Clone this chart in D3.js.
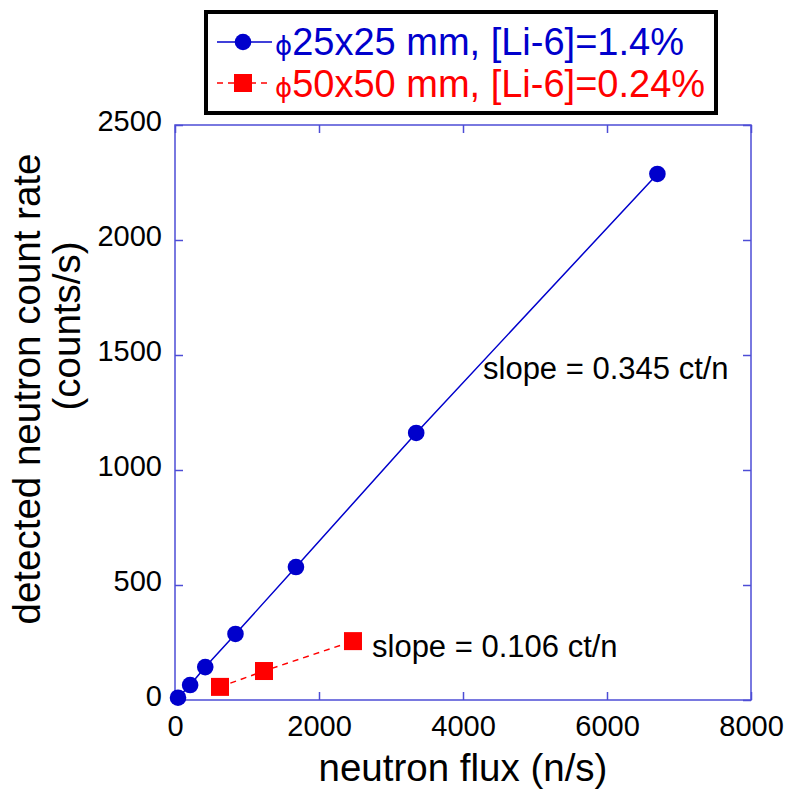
<!DOCTYPE html>
<html><head><meta charset="utf-8">
<script src="https://cdn.jsdelivr.net/npm/d3@7"></script>
<style>body{margin:0;background:#fff}text{font-family:"Liberation Sans",Arial,sans-serif}</style>
</head><body><svg id="c" width="790" height="792"></svg>
<script>
const fluxA = [42, 210, 420, 840, 1680, 3350, 6700];
const rateA = [10, 65, 143, 287, 578, 1161, 2287];
const fluxB = [625, 1236, 2472];
const rateB = [57, 126, 256];
const xTicks = [0, 2000, 4000, 6000, 8000];
const yTicks = [0, 500, 1000, 1500, 2000, 2500];
const labelA = "25x25 mm, [Li-6]=1.4%";
const labelB = "50x50 mm, [Li-6]=0.24%";

const svg = d3.select("#c");
const L=175,R=751,T=125,B=700;
const x = d3.scaleLinear().domain([0,8000]).range([L,R]);
const y = d3.scaleLinear().domain([0,2500]).range([B,T]);
const axisCol="#4d4dd6";

svg.append("rect").attr("x",L).attr("y",T).attr("width",R-L).attr("height",B-T)
  .attr("fill","none").attr("stroke",axisCol).attr("stroke-width",1.5);

const gx = svg.append("g").attr("transform",`translate(0,${B})`)
  .call(d3.axisBottom(x).tickValues(xTicks).tickSize(-8).tickPadding(15).tickFormat(d3.format("d")));
const gxt = svg.append("g").attr("transform",`translate(0,${T})`)
  .call(d3.axisTop(x).tickValues(xTicks).tickSize(-8).tickFormat(""));
const gy = svg.append("g").attr("transform",`translate(${L},0)`)
  .call(d3.axisLeft(y).tickValues(yTicks).tickSize(-8).tickPadding(13).tickFormat(d3.format("d")));
const gyr = svg.append("g").attr("transform",`translate(${R},0)`)
  .call(d3.axisRight(y).tickValues(yTicks).tickSize(-8).tickFormat(""));
[gx,gxt,gy,gyr].forEach(g=>{
  g.select(".domain").remove();
  g.selectAll(".tick line").attr("stroke",axisCol).attr("stroke-width",1.5);
  g.selectAll("text").attr("fill","#000").style("font-size","29px").style("font-family","Liberation Sans, Arial, sans-serif");
});
gx.selectAll("text").attr("dy","0.71em");
gy.selectAll("text").attr("dy","0.2em");

// series A
const lineA = d3.line().x((d,i)=>x(fluxA[i])).y((d,i)=>y(rateA[i]));
svg.append("path").attr("d",lineA(fluxA)).attr("fill","none").attr("stroke","#0000cc").attr("stroke-width",1.5);
svg.selectAll(".pa").data(fluxA).join("circle").attr("cx",(d,i)=>x(fluxA[i])).attr("cy",(d,i)=>y(rateA[i]))
  .attr("r",8.3).attr("fill","#0000cc");
// series B
const lineB = d3.line().x((d,i)=>x(fluxB[i])).y((d,i)=>y(rateB[i]));
svg.append("path").attr("d",lineB(fluxB)).attr("fill","none").attr("stroke","#ff0000").attr("stroke-width",1.5).attr("stroke-dasharray","6,5");
svg.selectAll(".pb").data(fluxB).join("rect").attr("x",(d,i)=>x(fluxB[i])-9).attr("y",(d,i)=>y(rateB[i])-9)
  .attr("width",18).attr("height",18).attr("fill","#ff0000");

// annotations
svg.append("text").attr("x",483).attr("y",379).style("font-size","31px").text("slope = 0.345 ct/n");
svg.append("text").attr("x",372).attr("y",657).style("font-size","31px").text("slope = 0.106 ct/n");

// axis titles
svg.append("text").attr("x",463).attr("y",781).attr("text-anchor","middle").style("font-size","38.5px").text("neutron flux (n/s)");
const yl = svg.append("g").attr("transform","rotate(-90)");
yl.append("text").attr("x",-389).attr("y",40).attr("text-anchor","middle").style("font-size","38.5px").text("detected neutron count rate");
yl.append("text").attr("x",-326).attr("y",80).attr("text-anchor","middle").style("font-size","38.5px").text("(counts/s)");

// legend
svg.append("rect").attr("x",206).attr("y",12).attr("width",510).attr("height",101)
  .attr("fill","#fff").attr("stroke","#000").attr("stroke-width",4);
const lg = [{label:labelA,col:"#0000cc",dash:null,sym:"c",y:42,base:55},{label:labelB,col:"#ff0000",dash:"6,5",sym:"s",y:83,base:97}];
lg.forEach(e=>{
  svg.append("line").attr("x1",217).attr("x2",272).attr("y1",e.y).attr("y2",e.y).attr("stroke",e.col).attr("stroke-width",1.5).attr("stroke-dasharray",e.dash);
  if(e.sym==="c") svg.append("circle").attr("cx",243).attr("cy",e.y).attr("r",8.3).attr("fill",e.col);
  else svg.append("rect").attr("x",234).attr("y",e.y-9).attr("width",18).attr("height",18).attr("fill",e.col);
  const t = svg.append("text").attr("x",275).attr("y",e.base).attr("fill",e.col).style("font-size","38px");
  t.append("tspan").style("font-size","26px").style("font-family","DejaVu Sans, sans-serif").text("ϕ");
  t.append("tspan").text(e.label);
});
</script></body></html>
